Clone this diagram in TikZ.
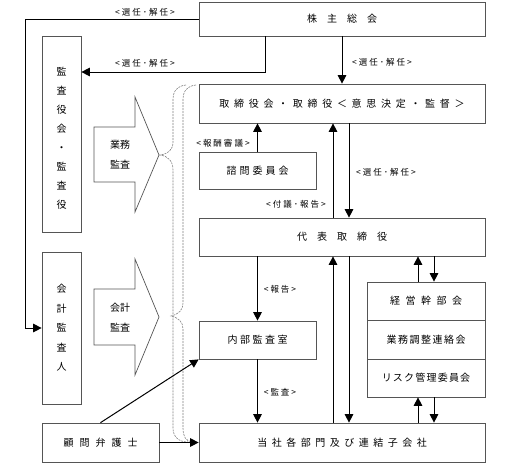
\documentclass[tikz,border=0pt]{standalone}
\usepackage{fontspec}
\setmainfont{Noto Sans CJK JP}
\usetikzlibrary{arrows.meta}
\definecolor{bgray}{HTML}{555555}
\definecolor{dgray}{HTML}{808080}
\def\spc#1#2{\def\spcgap{#1}\spcloop#2\relax}
\def\spcloop#1{\ifx#1\relax\else#1\expandafter\spcnext\fi}
\def\spcnext#1{\ifx#1\relax\else\hspace{\spcgap}\fi\spcloop#1}
\tikzset{
  bx/.style 2 args={draw=bgray, line width=0.7pt, fill=white, minimum width=#1pt, minimum height=#2pt, inner sep=0pt, font=\fontsize{10}{12}\selectfont},
  lbl/.style={font=\fontsize{8.5}{10}\selectfont, inner sep=0pt},
  arr/.style={line width=1pt, -{Triangle[length=8.5pt,width=8.5pt]}},
  dsh/.style={draw=dgray, line width=0.6pt, dash pattern=on 2pt off 1pt},
  barrow/.style={draw=bgray, line width=0.7pt, fill=white},
  btxt/.style={align=center, font=\fontsize{10}{20}\selectfont, inner sep=0pt}
}
\begin{document}
\begin{tikzpicture}[x=1pt,y=-1pt]
\useasboundingbox (0,0) rectangle (521,463);
% dashed braces
\draw[dsh] (186,85) .. controls (177,86) and (173,91) .. (173,100) -- (173,142)
  .. controls (173,150) and (168,154) .. (160,155) .. controls (168,156) and (173,161) .. (173,170)
  -- (173,428) .. controls (173,437) and (179,442) .. (188,442);
\draw[dsh] (196,85) .. controls (187,86) and (183,91) .. (183,100) -- (183,303)
  .. controls (183,310) and (179,314) .. (171,316) .. controls (179,318) and (183,322) .. (183,329)
  -- (183,428) .. controls (183,437) and (186,441) .. (192,442);
% boxes
\node[bx={286}{34}] (kabu) at (342,19) {\spc{10pt}{株主総会}};
\node[bx={286}{39}] (tori) at (342,103.5) {\spc{4.7pt}{取締役会・取締役＜意思決定・監督＞}};
\node[bx={117}{37}] (shimon) at (257.5,170.5) {\spc{3pt}{諮問委員会}};
\node[bx={286}{38}] (daihyo) at (342,237) {\spc{10pt}{代表取締役}};
\node[bx={117}{38}] (naibu) at (257.5,340) {\spc{2.5pt}{内部監査室}};
\node[bx={118}{38}] (keiei1) at (426,301) {\spc{5.5pt}{経営幹部会}};
\node[bx={118}{39}] (keiei2) at (426,339.5) {\spc{1.5pt}{業務調整連絡会}};
\node[bx={118}{38}] (keiei3) at (426,378) {\spc{1.2pt}{リスク管理委員会}};
\node[bx={286}{39}] (tosha) at (342,442.5) {\spc{4.5pt}{当社各部門及び連結子会社}};
\node[bx={117}{39}] (komon) at (100.5,442.5) {\spc{6pt}{顧問弁護士}};
\node[bx={39}{196}] (kansa) at (61.5,134) {};
\node[btxt, font=\fontsize{10}{19}\selectfont] (kansat) at (61.5,138) {監\\査\\役\\会\\・\\監\\査\\役};
\node[bx={39}{152}] (kaikei) at (61.5,328) {};
\node[btxt, font=\fontsize{10}{19.5}\selectfont] (kaikeit) at (61.5,328) {会\\計\\監\\査\\人};
% block arrows
\draw[barrow] (94,127) -- (135,127) -- (135,97) -- (159,155) -- (135,212) -- (135,182) -- (94,182) -- cycle;
\node[btxt] (gyomu) at (120,155) {業務\\監査};
\draw[barrow] (94,289) -- (135,289) -- (135,259) -- (159,317) -- (135,375) -- (135,345) -- (94,345) -- cycle;
\node[btxt] (kaikeik) at (120,318) {会計\\監査};
% connectors
\coordinate (c1) at (25,19);
\draw[arr] (kabu.west) -- (c1) -- (c1 |- kaikei.west) -- (kaikei.west);
\coordinate (c2) at (265,72);
\draw[arr] (kabu.south -| c2) -- (c2) -- (kansa.east |- c2);
\draw[arr] (kabu.south) -- (tori.north);
\draw[arr] (shimon.north) -- (tori.south -| shimon.north);
\draw[arr] ([xshift=-9pt]daihyo.north) -- ([xshift=-9pt]tori.south);
\draw[arr] ([xshift=7pt]tori.south) -- ([xshift=7pt]daihyo.north);
\draw[arr] (daihyo.south -| naibu.north) -- (naibu.north);
\draw[arr] (naibu.south) -- (tosha.north -| naibu.south);
\draw[arr] ([xshift=-9pt]tosha.north) -- ([xshift=-9pt]daihyo.south);
\draw[arr] ([xshift=7pt]daihyo.south) -- ([xshift=7pt]tosha.north);
\draw[arr] ([xshift=-8pt]keiei1.north) -- ([xshift=-8pt]keiei1.north |- daihyo.south);
\draw[arr] ([xshift=8pt]keiei1.north |- daihyo.south) -- ([xshift=8pt]keiei1.north);
\draw[arr] ([xshift=-8pt]keiei3.south |- tosha.north) -- ([xshift=-8pt]keiei3.south);
\draw[arr] ([xshift=8pt]keiei3.south) -- ([xshift=8pt]keiei3.south |- tosha.north);
\draw[arr] (komon.east) -- (tosha.west);
\draw[arr] (komon.north) -- (naibu.south west);
% labels
\node[lbl] (l1) at (145,12) {\spc{2pt}{<選任･解任>}};
\node[lbl] (l2) at (145,63) {\spc{2pt}{<選任･解任>}};
\node[lbl] (l3) at (382,62) {\spc{2pt}{<選任･解任>}};
\node[lbl] (l4) at (223,143) {\spc{2pt}{<報酬審議>}};
\node[lbl] (l5) at (296,204) {\spc{2pt}{<付議･報告>}};
\node[lbl] (l6) at (386,172) {\spc{2pt}{<選任･解任>}};
\node[lbl] (l7) at (280,289) {\spc{2pt}{<報告>}};
\node[lbl] (l8) at (280,392) {\spc{2pt}{<監査>}};
\end{tikzpicture}
\end{document}
